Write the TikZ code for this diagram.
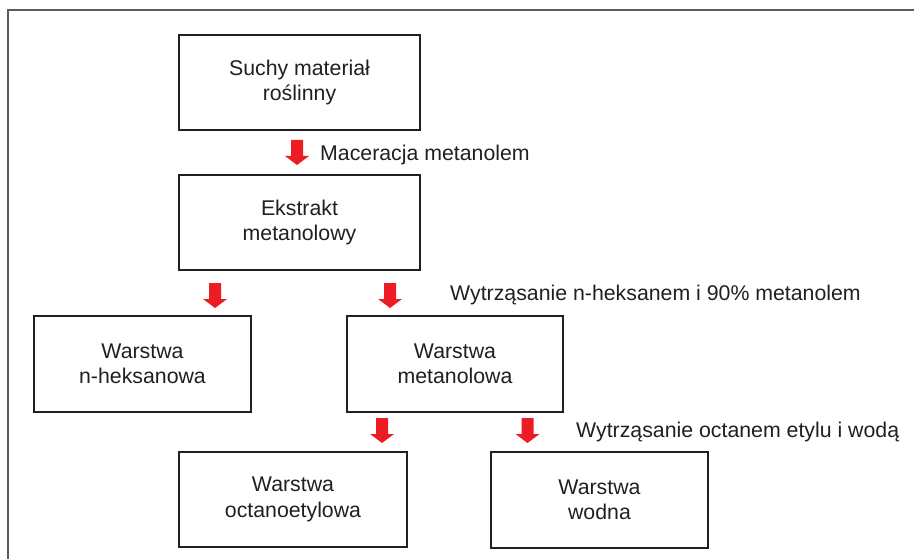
\documentclass[tikz,border=0pt]{standalone}
\usepackage{fontspec}
\setmainfont{Liberation Sans}
\definecolor{ink}{HTML}{231F20}
\definecolor{arrowred}{HTML}{ED1C24}
\definecolor{framegray}{HTML}{5A5A5A}
\tikzset{
  box/.style={draw=ink, line width=1.8pt, text=ink, align=center,
    font=\fontsize{21.3}{25.3}\selectfont, inner sep=0pt},
  lbl/.style={text=ink, font=\fontsize{21.3}{25.3}\selectfont, anchor=base west, inner sep=0pt},
  redarrow/.pic={\fill[arrowred] (-6,0) -- (6,0) -- (6,16) -- (12,16) -- (0,25) -- (-12,16) -- (-6,16) -- cycle;}
}
\begin{document}
\begin{tikzpicture}[x=1pt,y=-1pt]
\useasboundingbox (0,0) rectangle (914,559);
\fill[white] (0,0) rectangle (914,559);
% frame
\draw[framegray, line width=1.5pt] (8,559) -- (8,10) -- (914,10);
% boxes
\node[box, minimum width=241pt, minimum height=95pt] (suchy) at (299.5,82.5) {Suchy materiał\\roślinny};
\node[box, minimum width=241pt, minimum height=95pt] (ekstrakt) at (299.5,222.5) {Ekstrakt\\metanolowy};
\node[box, minimum width=217pt, minimum height=96pt] (heks) at (142.5,364) {Warstwa\\n-heksanowa};
\node[box, minimum width=216pt, minimum height=96pt] (metan) at (455,364) {Warstwa\\metanolowa};
\node[box, minimum width=228pt, minimum height=95pt] (octan) at (293,499.5) {Warstwa\\octanoetylowa};
\node[box, minimum width=217pt, minimum height=96pt] (wodna) at (599.5,500) {Warstwa\\wodna};
% red arrows
\pic at (297,140) {redarrow};
\pic at (215,283) {redarrow};
\pic at (390,283) {redarrow};
\pic at (382,418) {redarrow};
\pic at (527.5,418) {redarrow};
% labels
\node[lbl] (l1) at (320,161) {Maceracja metanolem};
\node[lbl] (l2) at (450,300) {Wytrząsanie n-heksanem i 90\% metanolem};
\node[lbl] (l3) at (576,437) {Wytrząsanie octanem etylu i wodą};
\end{tikzpicture}
\end{document}
